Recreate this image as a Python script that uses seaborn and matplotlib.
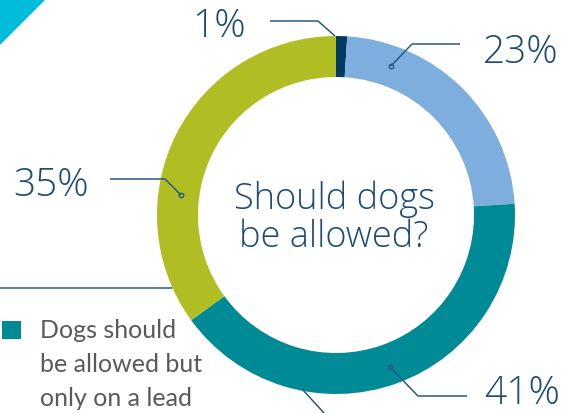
import matplotlib
matplotlib.use("Agg")
import matplotlib.pyplot as plt
import seaborn as sns
from matplotlib.patches import Polygon, Rectangle

sns.set_theme(style="white")
plt.rcParams['font.family'] = ['Lato', 'DejaVu Sans']

# Data
categories = ["No answer", "Dogs should not be allowed", "Dogs should be allowed but only on a lead", "Dogs should be allowed off lead"]
values = [1, 23, 41, 35]
pct_labels = ["1%", "23%", "41%", "35%"]
colors = ["#003A63", "#7DAEDD", "#008A96", "#B0BD23"]

W, H = 562, 414
fig = plt.figure(figsize=(W / 100, H / 100), dpi=100)
ax = fig.add_axes([0, 0, 1, 1])

def Y(y):
    return H - y

cx, cy, r = 336, 216, 179
ax.pie(values, colors=colors, startangle=90, counterclock=False,
       center=(cx, Y(cy)), radius=r, frame=True,
       wedgeprops=dict(width=41, linewidth=0))
ax.set_xlim(0, W)
ax.set_ylim(0, H)
ax.set_aspect("equal")
ax.axis("off")

# cyan corner triangle
ax.add_patch(Polygon([(0, Y(0)), (46, Y(0)), (0, Y(46))], closed=True,
                     facecolor="#00BCD8", edgecolor="none"))

txt = "#1B4C73"
line_c = "#2A5A80"

# leader lines
leaders = [
    [(270, 22), (318, 22), (335, 37)],
    [(460, 45), (412, 45), (391, 67)],
    [(467, 397), (418, 397), (390, 368)],
    [(110, 180), (165, 180), (181, 196)],
]
for pts in leaders:
    xs = [p[0] for p in pts]
    ys = [Y(p[1]) for p in pts]
    ax.plot(xs, ys, color=line_c, lw=1.1, solid_capstyle="butt")
for pts in leaders[1:]:
    ax.plot(pts[-1][0], Y(pts[-1][1]), marker="o", ms=3.2, mfc="none",
            mec=line_c, mew=1.0)
ax.plot([0, 172], [Y(289), Y(289)], color=line_c, lw=1.1)
ax.plot([302, 324], [Y(390), Y(414)], color=line_c, lw=1.1)

big_font = dict(family=["Open Sans", "DejaVu Sans"], weight=300)

# percent labels (baseline positions)
lab_pos = {"1%": (219, 37), "23%": (521, 63), "41%": (522, 404), "35%": (51, 196)}
for lab in pct_labels:
    x, y = lab_pos[lab]
    ax.text(x, Y(y), lab, color=txt, fontsize=28, ha="center", va="baseline",
            **big_font)

# center text
ax.text(cx - 2, Y(209), "Should dogs", color=txt, fontsize=26, ha="center",
        va="baseline", **big_font)
ax.text(cx - 2, Y(247), "be allowed?", color=txt, fontsize=26, ha="center",
        va="baseline", **big_font)

# legend entry
ax.add_patch(Rectangle((2, Y(340)), 19, 18, facecolor=colors[2], edgecolor="none"))
for i, line in enumerate(["Dogs should", "be allowed but", "only on a lead"]):
    ax.text(40, Y(331 + 34 * i), line, color="#5A5A5A", fontsize=18,
            ha="left", va="center")

fig.savefig("out.png", dpi=100)
